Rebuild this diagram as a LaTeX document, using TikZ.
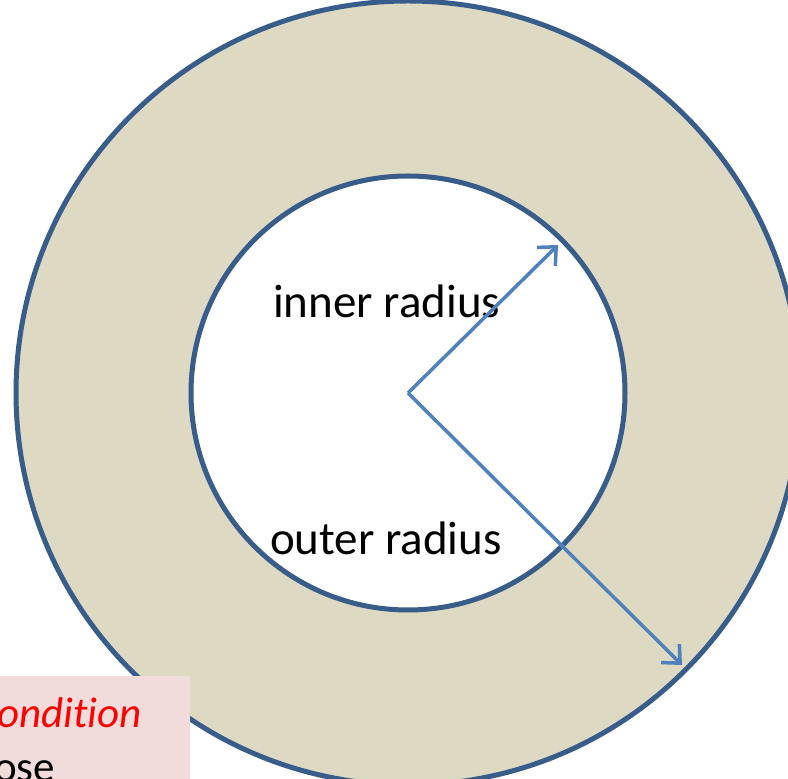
\documentclass[tikz,border=0pt]{standalone}
\usepackage{fontspec}
\setmainfont[Ligatures=NoCommon]{Carlito}
\usetikzlibrary{arrows.meta}
\definecolor{ringfill}{RGB}{221,217,195}
\definecolor{ringline}{RGB}{56,93,138}
\definecolor{arrowblue}{RGB}{79,129,189}
\definecolor{notefill}{RGB}{242,220,219}
\tikzset{
  ring/.style={draw=ringline, line width=5pt},
  radiusarrow/.style={draw=arrowblue, line width=3.5pt, -{Straight Barb[length=14pt,width=26pt,line width=3.5pt]}},
  label/.style={inner sep=0pt, anchor=base west, font=\fontsize{47}{56}\selectfont},
  notetext/.style={inner sep=0pt, anchor=base west, font=\fontsize{43}{50}\selectfont}
}
\begin{document}
\begin{tikzpicture}[x=1pt,y=1pt]
\useasboundingbox (0,0) rectangle (788,779);
\begin{scope}
\clip (0,0) rectangle (788,779);
\coordinate (c) at (408,386);
\fill[ringfill] (c) circle (392);
\draw[ring] (c) circle (392);
\fill[white] (c) circle (217);
\draw[ring] (c) circle (217);
\coordinate (innerend) at (558,534);
\coordinate (outerend) at (682,114);
\node[label] (innerlbl) at (273,461) {inner radius};
\node[label] (outerlbl) at (270,224) {outer radius};
\draw[radiusarrow] (c) -- (innerend);
\draw[radiusarrow] (c) -- (outerend);
\fill[notefill] (0,-20) rectangle (190,103);
\node[notetext, text=red, font=\fontsize{43}{50}\selectfont\itshape] (cond) at (-3,51) {ondition};
\node[notetext] (ose) at (-6,-3) {ose};
\end{scope}
\end{tikzpicture}
\end{document}
